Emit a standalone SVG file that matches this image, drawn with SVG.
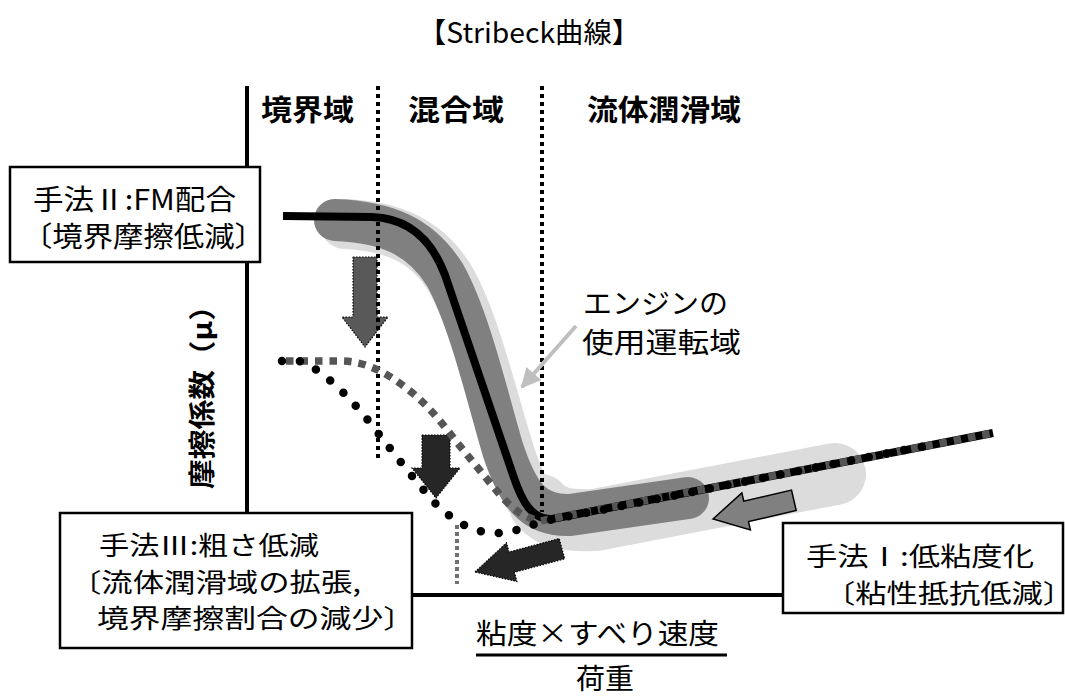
<svg xmlns="http://www.w3.org/2000/svg" width="1065" height="696" viewBox="0 0 1065 696">
<style>
text{font-family:"Noto Sans CJK JP","Noto Sans",sans-serif;fill:#000}
.t{font-size:28px}
.b{font-size:26px}
.r{font-size:29px;font-weight:bold}
.box{fill:#fff;stroke:#000;stroke-width:2.5}
.ax{stroke:#000;stroke-width:4;fill:none}
.vd{stroke:#000;stroke-width:4;stroke-dasharray:4 4;fill:none}
.dk{fill:#262626;stroke:#000;stroke-width:1.2;stroke-dasharray:1.5 1.5}
.lb{fill:none;stroke:#dcdcdc;stroke-linecap:round;stroke-linejoin:round}
</style>
<defs>
<marker id="ah" viewBox="0 0 10 10" refX="9" refY="5" markerWidth="5" markerHeight="5" orient="auto" markerUnits="strokeWidth">
<path d="M0,0 L10,5 L0,10 z" fill="#bfbfbf"/>
</marker>
</defs>
<rect width="1065" height="696" fill="#fff"/>
<g id="title"><text x="418" y="43" font-size="28" textLength="222" lengthAdjust="spacingAndGlyphs">【Stribeck曲線】</text></g>
<g id="bands">
<path class="lb" stroke-width="50" d="M345,224 C392,226 428,240 452,282 C476,326 494,404 510,454 C524,497 538,520 575,520"/>
<path class="lb" stroke-width="62" d="M540,505 C552,518 565,521 595,520 L835,474"/>
<path d="M335,220 C385,222 420,235 445,275 C470,320 488,400 503,450 C518,495 533,516 570,515 L688,498" fill="none" stroke="#808080" stroke-width="42" stroke-linecap="round" stroke-linejoin="round"/>
</g>
<g id="arrow-fm"><polygon points="353,257 377,257 377,317 388,317 365,347 342,317 353,317" fill="#595959" stroke="#000" stroke-width="1.2" stroke-dasharray="1.5 1.5"/></g>
<g id="regions">
<line class="vd" x1="378" y1="86" x2="378" y2="458"/>
<line class="vd" x1="542" y1="86" x2="542" y2="512"/>
<text class="r" x="261" y="121" textLength="93" lengthAdjust="spacingAndGlyphs">境界域</text>
<text class="r" x="408" y="121" textLength="96" lengthAdjust="spacingAndGlyphs">混合域</text>
<text class="r" x="587" y="121" textLength="154" lengthAdjust="spacingAndGlyphs">流体潤滑域</text>
</g>
<g id="arrow-down2"><polygon class="dk" points="422,435 450,435 450,468 460,468 436,498 412,468 422,468"/></g>
<g id="arrow-rough"><polygon class="dk" transform="translate(475,572) rotate(-15)" points="0,0 38,-20 38,-10.5 90,-10.5 90,10.5 38,10.5 38,20"/></g>
<g id="connectors">
<path d="M283,216 L372,217 C405,218 430,235 445,275 L513,475 C522,502 532,520 552,519 L993,433" fill="none" stroke="#000" stroke-width="8"/>
<path d="M286,361 L340,361 C365,361 385,372 405,387 C425,402 440,420 455,440 L500,495 C512,508 522,517 540,521 L993,433" fill="none" stroke="#555" stroke-width="7.5" stroke-dasharray="7.5 7"/>
<path d="M282,361 L299,361 C320,368 345,392 367,419 C390,448 410,475 435,503 C455,523 475,533 495,533 C510,533 525,528 540,522 L925,446" fill="none" stroke="#000" stroke-width="8.5" stroke-linecap="round" stroke-dasharray="0 18"/>
<line x1="457" y1="525" x2="457" y2="584" stroke="#707070" stroke-width="4" stroke-dasharray="4 3"/>
<line x1="576" y1="326" x2="522" y2="387" stroke="#bfbfbf" stroke-width="4" marker-end="url(#ah)"/>
</g>
<g id="arrow-visc"><polygon transform="translate(713,519) rotate(-13)" points="0,0 34,-19 34,-10.5 83,-10.5 83,10.5 34,10.5 34,19" fill="#808080" stroke="#000" stroke-width="1.5"/></g>
<g id="engine"><text class="t" x="583" y="314" textLength="145" lengthAdjust="spacingAndGlyphs">エンジンの</text>
<text class="t" x="582" y="353" textLength="159" lengthAdjust="spacingAndGlyphs">使用運転域</text></g>
<g id="axes">
<line class="ax" x1="247" y1="86" x2="247" y2="596"/>
<line class="ax" x1="245" y1="595" x2="1063" y2="595"/>
<text transform="translate(212,390) rotate(-90)" font-size="27" font-weight="bold" text-anchor="middle" textLength="198" lengthAdjust="spacingAndGlyphs">摩擦係数（μ）</text>
</g>
<g id="method2"><rect class="box" x="10" y="167" width="250" height="95"/>
<text class="t" x="33" y="210" textLength="203" lengthAdjust="spacingAndGlyphs">手法Ⅱ:FM配合</text>
<text class="t" x="22" y="247" textLength="243" lengthAdjust="spacingAndGlyphs">〔境界摩擦低減〕</text></g>
<g id="method3"><rect class="box" x="60" y="513" width="352" height="135"/>
<text class="b" x="99" y="555" textLength="220" lengthAdjust="spacingAndGlyphs">手法Ⅲ:粗さ低減</text>
<text class="b" x="70" y="592" textLength="291" lengthAdjust="spacingAndGlyphs">〔流体潤滑域の拡張,</text>
<text class="b" x="97" y="628" textLength="318" lengthAdjust="spacingAndGlyphs">境界摩擦割合の減少〕</text></g>
<g id="method1"><rect class="box" x="783" y="523" width="280" height="90"/>
<text class="b" x="806" y="566" textLength="228" lengthAdjust="spacingAndGlyphs">手法Ⅰ:低粘度化</text>
<text class="b" x="824" y="603" textLength="250" lengthAdjust="spacingAndGlyphs">〔粘性抵抗低減〕</text></g>
<g id="xlabel">
<text class="t" x="476" y="644" textLength="243" lengthAdjust="spacingAndGlyphs">粘度×すべり速度</text>
<line x1="476" y1="655" x2="727" y2="655" stroke="#000" stroke-width="3"/>
<text class="t" x="576" y="689" textLength="58" lengthAdjust="spacingAndGlyphs">荷重</text>
</g>
</svg>
